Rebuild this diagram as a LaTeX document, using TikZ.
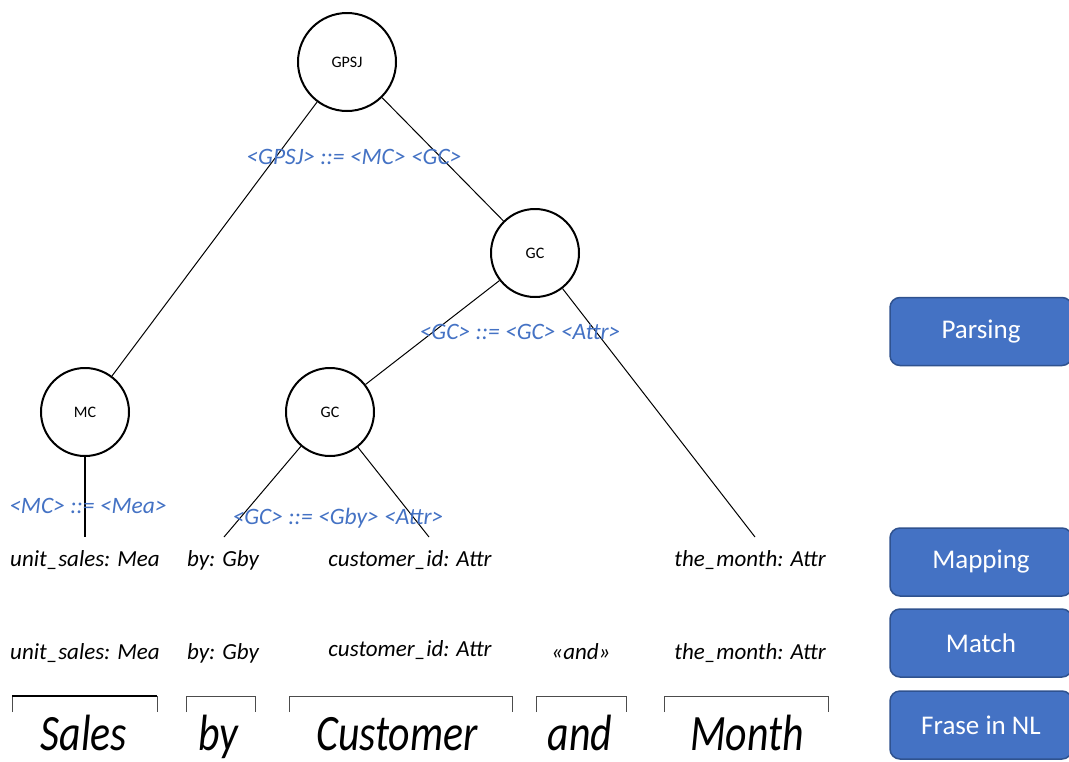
\documentclass[tikz,border=0pt]{standalone}
\usepackage{fontspec}
\setmainfont{Carlito}
\newfontfamily\wordfont[FakeStretch=0.82]{Carlito}
\definecolor{ruleblue}{HTML}{4472C4}
\definecolor{stagefill}{HTML}{4472C4}
\definecolor{stageline}{HTML}{2F528F}
\tikzset{x=1pt, y=-1pt,          % one unit is one pixel of the sketch
         nt/.style={              % non-terminal circles of the parse tree
           circle, draw, line width=2pt, inner sep=0pt,
           minimum size=88pt, font=\fontsize{16}{18}\selectfont},
         production/.style={      % grammar rules written in blue
           anchor=base, inner sep=0pt, text=ruleblue,
           font=\fontsize{23.5}{26}\selectfont\itshape},
         token/.style={           % mapped / matched tokens
           anchor=base, inner sep=0pt,
           font=\fontsize{23}{26}\selectfont\itshape},
         word/.style={            % words of the sentence
           anchor=base, inner sep=0pt,
           font=\wordfont\fontsize{51}{58}\selectfont\itshape},
         stage/.style={           % blue boxes on the right
           rectangle, rounded corners=10pt, draw=stageline, line width=1.5pt,
           fill=stagefill, text=white, minimum width=182pt,
           minimum height=68pt, font=\fontsize{27}{30}\selectfont}}

\begin{document}
\begin{tikzpicture}
\useasboundingbox (0,0) rectangle (1069,761);

% parse tree
\node[nt, minimum size=98pt] (gpsj) at (347,62) {GPSJ};
\node[nt] (gc1) at (535,253) {GC};
\node[nt] (mc) at (85,412) {MC};
\node[nt] (gc2) at (330,412) {GC};

\coordinate (mcend) at (85,537);
\coordinate (byend) at (224,537);
\coordinate (custend) at (429,537);
\coordinate (monthend) at (755,537);

\begin{scope}[line width=1pt]
    \draw (gpsj) -- (mc);
    \draw (gpsj) -- (gc1);
    \draw (gc1) -- (gc2);
    \draw (gc1) -- (monthend);
    \draw (gc2) -- (byend);
    \draw (gc2) -- (custend);
    \draw[line width=2.5pt] (mc) -- (mcend);
\end{scope}

\node[production] (r1) at (354,164) {<GPSJ> ::= <MC> <GC>};
\node[production] (r2) at (520,339) {<GC> ::= <GC> <Attr>};
\node[production] (r3) at (88,513) {<MC> ::= <Mea>};
\node[production] (r4) at (338,524) {<GC> ::= <Gby> <Attr>};

% mapping
\node[token] (map1) at (85,566) {unit\_sales: Mea};
\node[token] (map2) at (223,566) {by: Gby};
\node[token] (map3) at (410,566) {customer\_id: Attr};
\node[token] (map4) at (750,566) {the\_month: Attr};

% match
\node[token] (mat1) at (85,659) {unit\_sales: Mea};
\node[token] (mat2) at (223,659) {by: Gby};
\node[token] (mat3) at (410,656) {customer\_id: Attr};
\node[token] (mat4) at (581,659) {«and»};
\node[token] (mat5) at (750,659) {the\_month: Attr};

% sentence
\draw[line width=1pt, black!70] (12,712) |- (157,696) -- (157,712);
\draw[line width=2pt] (12,696) -- (157,696);
\draw[line width=1pt, black!70] (186,712) |- (255,696) -- (255,712);
\draw[line width=1pt, black!70] (289,712) |- (512,696) -- (512,712);
\draw[line width=1pt, black!70] (536,712) |- (626,696) -- (626,712);
\draw[line width=1pt, black!70] (664,712) |- (828,696) -- (828,712);

\node[word] (w1) at (84,750) {Sales};
\node[word] (w2) at (218,750) {by};
\node[word] (w3) at (397,750) {Customer};
\node[word] (w4) at (580,750) {and};
\node[word] (w5) at (747,750) {Month};

% stages
\node[stage] (parsing) at (981,331.5) {Parsing};
\node[stage] (mapping) at (981,562) {Mapping};
\node[stage] (match) at (981,643) {Match};
\node[stage] (frase) at (981,725) {Frase in NL};
\end{tikzpicture}
\end{document}
